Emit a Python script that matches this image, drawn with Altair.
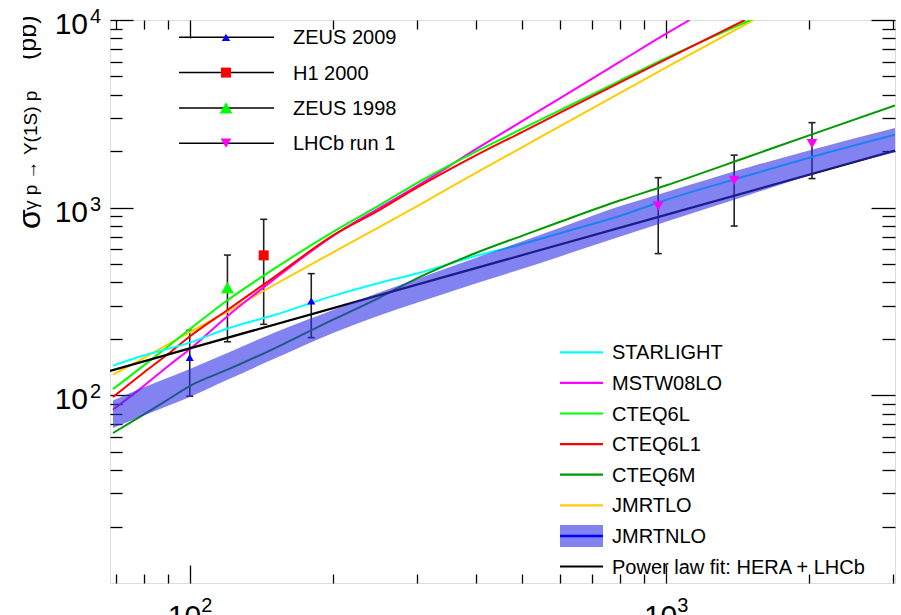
import altair as alt
import pandas as pd

FONT = "Liberation Sans"

# ---------------- theory curves: W (GeV) vs sigma (pb) ----------------
starlight_W = [69, 80, 90, 100, 120, 150, 200, 250, 300, 400, 500, 600, 800, 1000, 1500, 2000, 3030]
starlight_s = [144, 163, 177, 191, 227, 267, 339, 397, 446, 554, 641, 731, 902, 1099, 1492, 1845, 2445]

mstw_W = [69, 80, 90, 100, 120, 150, 200, 250, 300, 400, 500, 600, 800, 1000, 1122]
mstw_s = [84, 112, 143, 176, 264, 413, 708, 996, 1302, 2055, 2897, 3837, 5982, 8433, 10000]

cteq6l_W = [69, 80, 90, 100, 120, 150, 200, 250, 300, 400, 500, 600, 800, 1000, 1507]
cteq6l_s = [108, 144, 182, 225, 321, 470, 743, 1028, 1352, 1995, 2636, 3306, 4740, 6255, 10000]

cteq6l1_W = [69, 80, 90, 100, 120, 150, 200, 250, 300, 400, 500, 600, 800, 1000, 1466]
cteq6l1_s = [98, 132, 166, 206, 285, 424, 711, 970, 1277, 1905, 2535, 3206, 4637, 6166, 10000]

cteq6m_W = [69, 80, 90, 100, 120, 150, 200, 250, 300, 400, 500, 600, 800, 1000, 1500, 2000, 3030]
cteq6m_s = [63, 79, 95, 112, 137, 177, 253, 331, 420, 575, 710, 841, 1091, 1313, 1879, 2427, 3500]

jmrtlo_W = [69, 80, 90, 100, 120, 150, 200, 250, 300, 400, 500, 600, 800, 1000, 1528]
jmrtlo_s = [129, 158, 187, 217, 279, 386, 578, 787, 1016, 1538, 2104, 2721, 4074, 5572, 10000]

jmrtnlo_W = [69, 80, 90, 100, 120, 150, 200, 250, 300, 400, 500, 600, 800, 1000, 1500, 2000, 3030]
jmrtnlo_hi = [94, 110, 124, 138, 168, 215, 285, 353, 417, 541, 662, 782, 1016, 1210, 1649, 2018, 2655]
jmrtnlo_lo = [67, 78, 88, 98, 121, 156, 215, 266, 311, 395, 473, 550, 699, 841, 1172, 1485, 1975]

powerlaw_W = [68, 100, 300, 1000, 3030]
powerlaw_s = [135, 178, 389, 916, 2014]

# ---------------- measurements ----------------
zeus09_W = [100, 180]
zeus09_s = [159, 318]
zeus09_lo = [99, 203]
zeus09_hi = [222, 445]

h1_W = [143]
h1_s = [557]
h1_lo = [239]
h1_hi = [867]

zeus98_W = [120]
zeus98_s = [375]
zeus98_lo = [193]
zeus98_hi = [559]

lhcb_W = [964, 1392, 2028]
lhcb_s = [1021, 1396, 2193]
lhcb_lo = [569, 798, 1429]
lhcb_hi = [1445, 1905, 2838]

# ---------------- axis ticks ----------------
x_major = [100, 1000]
x_major_exp = ["2", "3"]
x_minor = [70, 80, 90, 200, 300, 400, 500, 600, 700, 800, 900, 2000, 3000]
y_major = [100, 1000, 10000]
y_major_exp = ["2", "3", "4"]
y_minor = [20, 30, 40, 50, 60, 70, 80, 90,
           200, 300, 400, 500, 600, 700, 800, 900,
           2000, 3000, 4000, 5000, 6000, 7000, 8000, 9000]

# ---------------- legends ----------------
data_labels = ["ZEUS 2009", "H1 2000", "ZEUS 1998", "LHCb run 1"]
data_colors = ["#0000ff", "#ff0000", "#00ff00", "#ff00ff"]
data_shapes = ["triangle-up", "square", "triangle-up", "triangle-down"]
data_sizes = [64, 100, 165, 115]

model_labels = ["STARLIGHT", "MSTW08LO", "CTEQ6L", "CTEQ6L1", "CTEQ6M",
                "JMRTLO", "JMRTNLO", "Power law fit: HERA + LHCb"]
model_colors = ["#00ffff", "#ff00ff", "#00ff00", "#ff0000", "#009900",
                "#ffcc00", "#0000ff", "#000000"]

BAND = "#2e2ee6"
EBC = "#222222"

PW, PH = 785, 563
xs = alt.Scale(type="log", domain=[68, 3030], nice=False)
ys = alt.Scale(type="log", domain=[10, 10000], nice=False)


def X(field="W"):
    return alt.X(f"{field}:Q", scale=xs, axis=None)


def Y(field):
    return alt.Y(f"{field}:Q", scale=ys, axis=None)


one = pd.DataFrame({"k": [0]})
layers = []

# ----- axis tick layers (inward ticks, no labels) -----
def axis_layer(xv, yv, xo, yo, xl, yl):
    df = pd.DataFrame({"W": [100], "s": [100]})
    return alt.Chart(df).mark_point(opacity=0).encode(
        x=alt.X("W:Q", scale=xs, axis=alt.Axis(
            orient=xo, values=xv, tickSize=xl, offset=-xl, labels=False,
            domain=False, grid=False, title=None, tickColor="black", tickWidth=1.3)),
        y=alt.Y("s:Q", scale=ys, axis=alt.Axis(
            orient=yo, values=yv, tickSize=yl, offset=-yl, labels=False,
            domain=False, grid=False, title=None, tickColor="black", tickWidth=1.3)),
    )

layers.append(axis_layer(x_major, y_major, "bottom", "left", 18, 23))
layers.append(axis_layer(x_minor, y_minor, "bottom", "left", 9, 12))
layers.append(axis_layer(x_major, y_major, "top", "right", 18, 24))
layers.append(axis_layer(x_minor, y_minor, "top", "right", 9, 13))

# ----- error bars (under the band) -----
def errbars(W, lo, hi):
    df = pd.DataFrame({"W": W, "lo": lo, "hi": hi})
    bar = alt.Chart(df).mark_rule(color=EBC, strokeWidth=1.6, clip=True).encode(
        x=X(), y=Y("lo"), y2="hi:Q")
    caps = []
    for f in ["lo", "hi"]:
        caps.append(alt.Chart(df).mark_point(
            shape="M-1,0L1,0", filled=False, strokeWidth=1.6, size=49,
            color=EBC, opacity=1).encode(x=X(), y=Y(f)))
    return [bar] + caps

for W, lo, hi in [(zeus09_W, zeus09_lo, zeus09_hi), (h1_W, h1_lo, h1_hi),
                  (zeus98_W, zeus98_lo, zeus98_hi), (lhcb_W, lhcb_lo, lhcb_hi)]:
    layers += errbars(W, lo, hi)

# ----- theory curves -----
def curve(W, s, color, width=2.0):
    df = pd.DataFrame({"W": W, "s": s})
    return alt.Chart(df).mark_line(color=color, strokeWidth=width, clip=True,
                                   interpolate="monotone").encode(x=X(), y=Y("s"))

layers.append(curve(jmrtlo_W, jmrtlo_s, "#ffcc00"))
layers.append(curve(mstw_W, mstw_s, "#ff00ff"))
layers.append(curve(cteq6l_W, cteq6l_s, "#00ff00"))
layers.append(curve(cteq6l1_W, cteq6l1_s, "#ff0000"))
layers.append(curve(starlight_W, starlight_s, "#00ffff"))
layers.append(curve(cteq6m_W, cteq6m_s, "#009900"))
layers.append(alt.Chart(pd.DataFrame({"W": powerlaw_W, "s": powerlaw_s}))
              .mark_line(color="black", strokeWidth=2.2, clip=True)
              .encode(x=X(), y=Y("s")))

# ----- JMRTNLO band -----
band_df = pd.DataFrame({"W": jmrtnlo_W, "lo": jmrtnlo_lo, "hi": jmrtnlo_hi})
layers.append(alt.Chart(band_df).mark_area(color=BAND, opacity=0.6, clip=True,
                                           interpolate="monotone")
              .encode(x=X(), y=Y("lo"), y2="hi:Q"))

# ----- markers -----
for W, s, i in [(zeus09_W, zeus09_s, 0), (h1_W, h1_s, 1),
                (zeus98_W, zeus98_s, 2), (lhcb_W, lhcb_s, 3)]:
    df = pd.DataFrame({"W": W, "s": s})
    layers.append(alt.Chart(df).mark_point(
        shape=data_shapes[i], filled=True, size=data_sizes[i],
        color=data_colors[i], opacity=1).encode(x=X(), y=Y("s")))

# ----- legend 1 (measurements) -----
for i, lab in enumerate(data_labels):
    ry = 17.3 + i * 35.3
    layers.append(alt.Chart(one).mark_rule(color="black", strokeWidth=1.5).encode(
        x=alt.value(69), x2=alt.value(164), y=alt.value(ry)))
    layers.append(alt.Chart(one).mark_point(
        shape=data_shapes[i], filled=True, size=data_sizes[i] if i != 0 else 70,
        color=data_colors[i], opacity=1).encode(x=alt.value(116), y=alt.value(ry)))
    layers.append(alt.Chart(one).mark_text(
        align="left", baseline="middle", fontSize=20, font=FONT, color="black").encode(
        x=alt.value(183), y=alt.value(ry + 1), text=alt.value(lab)))

# ----- legend 2 (models) -----
for i, lab in enumerate(model_labels):
    ry = 332.3 + i * 30.6
    if lab == "JMRTNLO":
        layers.append(alt.Chart(one).mark_rect(color=BAND, opacity=0.6).encode(
            x=alt.value(450), x2=alt.value(493), y=alt.value(ry - 11), y2=alt.value(ry + 11)))
        w = 2.5
    else:
        w = 2.2
    layers.append(alt.Chart(one).mark_rule(color=model_colors[i], strokeWidth=w).encode(
        x=alt.value(450), x2=alt.value(493), y=alt.value(ry)))
    layers.append(alt.Chart(one).mark_text(
        align="left", baseline="middle", fontSize=20, font=FONT, color="black").encode(
        x=alt.value(502), y=alt.value(ry + 1), text=alt.value(lab)))

# ----- tick labels (10 with superscript exponent) -----
xt = pd.DataFrame({"W": x_major, "exp": x_major_exp})
layers.append(alt.Chart(xt).mark_text(align="right", baseline="alphabetic", fontSize=30,
                                      font=FONT, dx=11.5, color="black").encode(
    x=X(), y=alt.value(605.5), text=alt.value("10")))
layers.append(alt.Chart(xt).mark_text(align="left", baseline="alphabetic", fontSize=20,
                                      font=FONT, dx=11.5, color="black").encode(
    x=X(), y=alt.value(592), text="exp:N"))

yt = pd.DataFrame({"s": y_major, "exp": y_major_exp})
layers.append(alt.Chart(yt).mark_text(align="right", baseline="alphabetic", fontSize=30,
                                      font=FONT, dy=14, color="black").encode(
    x=alt.value(-22), y=Y("s"), text=alt.value("10")))
layers.append(alt.Chart(yt).mark_text(align="left", baseline="alphabetic", fontSize=20,
                                      font=FONT, dy=3, color="black").encode(
    x=alt.value(-20), y=Y("s"), text="exp:N"))

# ----- y-axis title (rotated) -----
for txt, xb, ys0, fs in [("σ", -70, 209, 32),
                         ("γ p → Υ(1S) p", -73, 190, 19),
                         ("(pb)", -74, 40, 25)]:
    layers.append(alt.Chart(one).mark_text(
        angle=270, align="left", baseline="alphabetic", fontSize=fs, font=FONT,
        color="black").encode(x=alt.value(xb), y=alt.value(ys0), text=alt.value(txt)))

# crop of the original picture at its left edge
layers.append(alt.Chart(one).mark_rect(color="white").encode(
    x=alt.value(-112), x2=alt.value(-87), y=alt.value(-22), y2=alt.value(600)))

chart = (
    alt.layer(*layers)
    .properties(width=PW, height=PH,
                autosize=alt.AutoSizeParams(type="none"),
                padding={"left": 110, "top": 20, "right": 6, "bottom": 32})
    .resolve_axis(x="independent", y="independent")
    .configure_view(stroke="black", strokeWidth=1.5)
    .configure(background="white")
)

chart.save("out.html", embed_options={"renderer": "svg", "actions": False})
